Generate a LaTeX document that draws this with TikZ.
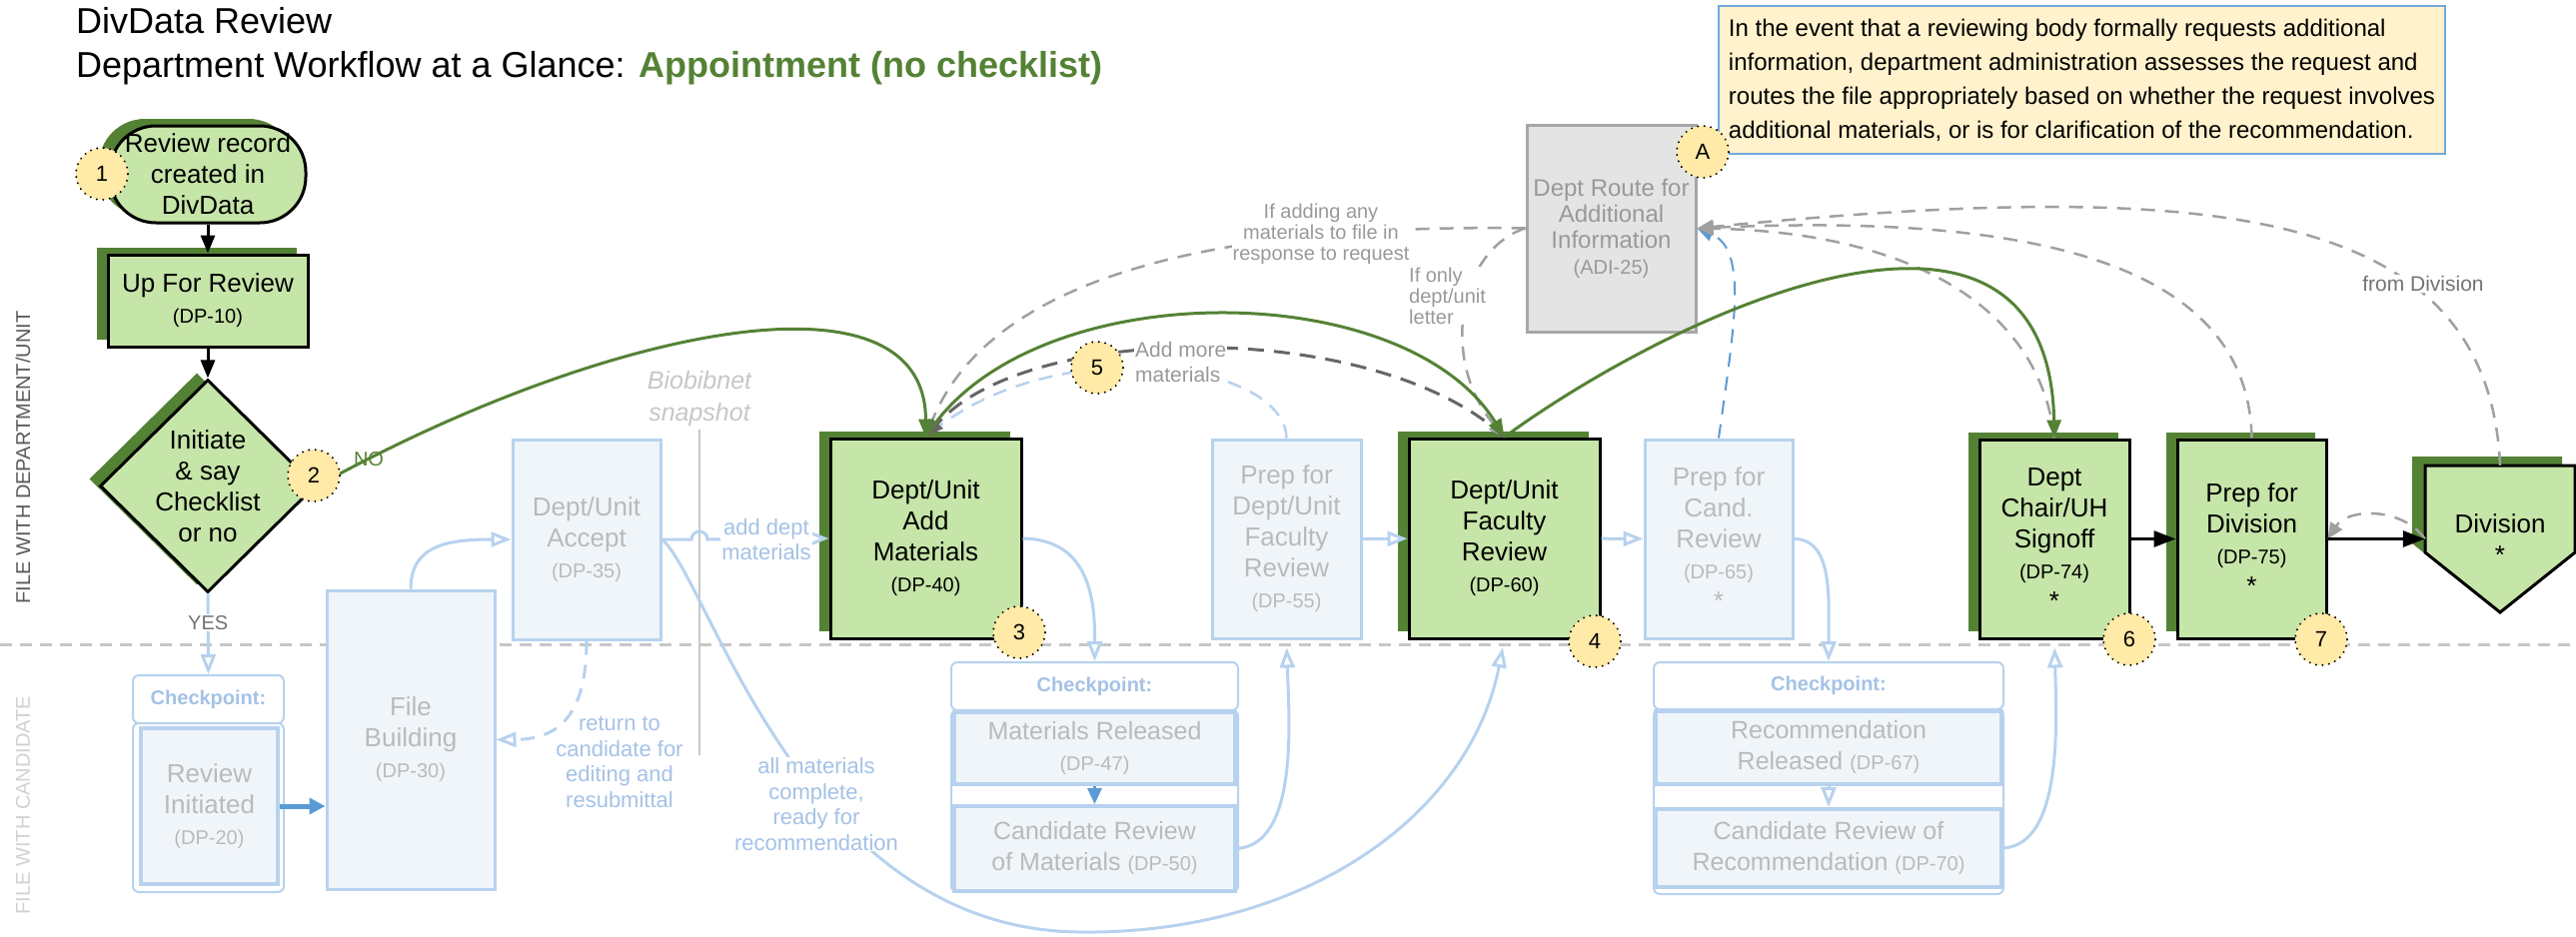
\documentclass[tikz,border=0pt]{standalone}
\usepackage{fontspec}
\setmainfont{Liberation Sans}
\usetikzlibrary{arrows.meta,shapes.geometric,shadows}

\definecolor{dkgreen}{RGB}{84,130,53}
\definecolor{ltgreen}{RGB}{198,229,168}
\definecolor{badgefill}{RGB}{255,234,167}
\definecolor{palefill}{RGB}{240,245,250}
\definecolor{paleline}{RGB}{183,210,238}
\definecolor{fadetext}{RGB}{186,186,186}
\definecolor{fadeblue}{RGB}{164,194,230}
\definecolor{midblue}{RGB}{91,155,213}
\definecolor{adifill}{RGB}{228,228,228}
\definecolor{adiline}{RGB}{166,166,166}
\definecolor{aditext}{RGB}{153,153,153}
\definecolor{notefill}{RGB}{255,242,204}
\definecolor{noteline}{RGB}{111,168,220}
\definecolor{dashgray}{RGB}{160,160,160}
\definecolor{darkdash}{RGB}{102,102,102}

\newcommand{\dpnum}[1]{{\fontsize{20}{31}\selectfont(#1)}}

\begin{document}
\begin{tikzpicture}[x=1pt, y=-1pt, >={Triangle[length=18pt,width=14pt]}]
      \tikzset{
  stepbox/.style={
    rectangle,
    draw=black,
    line width=3pt,
    fill=ltgreen,
    drop shadow={shadow xshift=-11pt, shadow yshift=7pt, fill=dkgreen, opacity=1},
    align=center,
    inner sep=0pt,
    font=\fontsize{26}{31}\selectfont
  },
  fadebox/.style={
    rectangle,
    draw=paleline,
    line width=3pt,
    fill=palefill,
    text=fadetext,
    align=center,
    inner sep=0pt,
    font=\fontsize{26}{31}\selectfont
  },
  cphead/.style={
    rectangle,
    rounded corners=6pt,
    draw=paleline,
    line width=2pt,
    fill=white,
    text=fadeblue,
    inner sep=0pt,
    font=\fontsize{20}{24}\selectfont\bfseries
  },
  cpbody/.style={cphead, font=\normalsize},
  cpitem/.style={fadebox, line width=4pt, font=\fontsize{25}{31}\selectfont},
  adibox/.style={
    rectangle,
    draw=adiline,
    line width=3pt,
    fill=adifill,
    text=aditext,
    align=center,
    inner sep=0pt,
    font=\fontsize{24}{26}\selectfont
  },
  badge/.style={
    circle,
    draw=black,
    line width=2.2pt,
    dash pattern=on 0.01pt off 6.5pt,
    line cap=round,
    fill=badgefill,
    minimum size=52pt,
    inner sep=0pt,
    font=\fontsize{22}{26}\selectfont
  },
  lbl/.style={text=fadeblue, align=center, inner sep=1pt, font=\fontsize{22}{25.5}\selectfont},
  glbl/.style={text=aditext, align=center, inner sep=1pt, font=\fontsize{20}{21}\selectfont},
  blk/.style={draw=black, line width=3pt, ->},
  grn/.style={draw=dkgreen, line width=3pt, ->},
  blt/.style={draw=paleline, line width=3pt, -{Triangle[length=20pt,width=15pt,fill=white]}},
  gdash/.style={draw=dashgray, line width=2.5pt, dash pattern=on 14pt off 10pt,
    -{Triangle[length=16pt,width=14pt]}},
  ddash/.style={draw=darkdash, line width=3pt, dash pattern=on 16pt off 10pt,
    -{Triangle[length=18pt,width=14pt]}},
  bdash/.style={draw=paleline, line width=2.5pt, dash pattern=on 14pt off 10pt}
}

\useasboundingbox (0,0) rectangle (2578,937);

% titles and lanes
\node[anchor=base west, inner sep=0pt, font=\fontsize{36}{44}\selectfont] (title-1) at (76,33) {DivData Review};
\node[anchor=base west, inner sep=0pt, font=\fontsize{36}{44}\selectfont] (title-2) at (76,77)
  {Department Workflow at a Glance: {\bfseries\color{dkgreen}Appointment (no checklist)}};

\draw[draw=black!22, line width=3pt, dash pattern=on 12pt off 8pt] (0,645) -- (2578,645);
\node[rotate=90, font=\fontsize{20}{24}\selectfont, text=black!65] (lane-dept) at (23,458) {FILE WITH DEPARTMENT/UNIT};
\node[rotate=90, font=\fontsize{20}{24}\selectfont, text=black!18] (lane-cand) at (23,806) {FILE WITH CANDIDATE};

\node[font=\fontsize{25}{32}\selectfont\itshape, text=black!22, align=center] (snap) at (700,399) {Biobibnet\\snapshot};
\draw[draw=black!22, line width=2pt] (snap.south) -- ++(0,326);

% steps in the department lane
\node[stepbox, rounded corners=46pt, minimum width=196pt, minimum height=97pt] (start) at (208,174.5) {Review record\\created in\\DivData};
\node[stepbox, minimum width=200pt, minimum height=92pt] (step-10) at (208,301) {Up For Review\\\dpnum{DP-10}};
\node[stepbox, diamond, minimum width=216pt, minimum height=213pt, inner sep=-5pt] (chk) at (208,486.5) {Initiate\\\& say\\Checklist\\or no};
\node[fadebox, minimum width=148pt, minimum height=200pt] (step-35) at (587,540) {Dept/Unit\\Accept\\\dpnum{DP-35}};
\node[stepbox, minimum width=191pt, minimum height=200pt] (step-40) at (926.5,539) {Dept/Unit\\Add\\Materials\\\dpnum{DP-40}};
\node[fadebox, minimum width=149pt, minimum height=199pt] (step-55) at (1287.5,539.5) {Prep for\\Dept/Unit\\Faculty\\Review\\\dpnum{DP-55}};
\node[stepbox, minimum width=191pt, minimum height=200pt] (step-60) at (1505.5,539) {Dept/Unit\\Faculty\\Review\\\dpnum{DP-60}};
\node[fadebox, minimum width=148pt, minimum height=199pt] (step-65) at (1720,539.5) {Prep for\\Cand.\\Review\\\dpnum{DP-65}\\*};
\node[adibox, minimum width=169pt, minimum height=207pt] (step-adi) at (1612.5,228.5) {Dept Route for\\Additional\\Information\\\dpnum{ADI-25}};
\node[stepbox, minimum width=150pt, minimum height=199pt] (step-74) at (2056,539.5) {Dept\\Chair/UH\\Signoff\\\dpnum{DP-74}\\*};
\node[stepbox, minimum width=149pt, minimum height=199pt] (step-75) at (2253.5,539.5) {Prep for\\Division\\\dpnum{DP-75}\\*};

\fill[dkgreen] (2414,457) -- (2564,457) -- (2564,544) -- (2489,604) -- (2414,544) -- cycle;
\draw[black, line width=3pt, fill=ltgreen] (2427,466) -- (2577,466) -- (2577,553) -- (2502,613) -- (2427,553) -- cycle;
\node[minimum width=150pt, minimum height=147pt, align=center, inner sep=0pt, font=\fontsize{26}{31}\selectfont] (div) at (2502,539.5) {Division\\*};

\node[draw=noteline, line width=1.5pt, fill=notefill, align=left, inner xsep=10pt, inner ysep=0pt,
  minimum height=148pt, font=\fontsize{24}{34}\selectfont] (note) at (2083.5,80)
  {In the event that a reviewing body formally requests additional\\
   information, department administration assesses the request and\\
   routes the file appropriately based on whether the request involves\\
   additional materials, or is for clarification of the recommendation.};

% steps in the candidate lane
\node[fadebox, minimum width=168pt, minimum height=299pt] (step-30) at (411,740.5) {File\\Building\\\dpnum{DP-30}};

\node[cphead, minimum width=151pt, minimum height=48pt] (cp-1) at (208.5,700) {Checkpoint:};
\node[cpbody, minimum width=151pt, minimum height=169pt] (cpb-1) at (208.5,808.5) {};
\node[cpitem, minimum width=137pt, minimum height=156pt, font=\fontsize{26}{31}\selectfont] (step-20) at (209.5,807) {Review\\Initiated\\\dpnum{DP-20}};

\node[cphead, minimum width=287pt, minimum height=48pt] (cp-2) at (1095.5,687) {Checkpoint:};
\node[cpbody, minimum width=287pt, minimum height=182pt] (cpb-2) at (1095.5,802) {};
\node[cpitem, minimum width=281pt, minimum height=72pt] (step-47) at (1095.5,749) {Materials Released\\\dpnum{DP-47}};
\node[cpitem, minimum width=281pt, minimum height=85pt] (step-50) at (1095.5,849.5) {Candidate Review\\of Materials \dpnum{DP-50}};

\node[cphead, minimum width=350pt, minimum height=47pt] (cp-3) at (1830,686.5) {Checkpoint:};
\node[cpbody, minimum width=350pt, minimum height=185pt] (cpb-3) at (1830,802.5) {};
\node[cpitem, minimum width=346pt, minimum height=73pt] (step-67) at (1830,748.5) {Recommendation\\Released \dpnum{DP-67}};
\node[cpitem, minimum width=346pt, minimum height=78pt] (step-70) at (1830,849) {Candidate Review of\\Recommendation \dpnum{DP-70}};

% light blue flow
\draw[blt] (chk.south) -- node[pos=.36, fill=white, text=black!55, inner sep=1pt, font=\fontsize{20}{24}\selectfont] (lbl-yes) {YES} (cp-1.north);
\draw[midblue, line width=5pt, -{Triangle[length=16pt,width=16pt]}] (step-20.east) -- (step-20.east -| step-30.west);
\draw[blt] (step-30.north) .. controls (411,545) and (450,540) .. (step-35.west);
\draw[blt, dash pattern=on 14pt off 10pt] (step-35.south) .. controls (587,715) and (560,740) .. (step-30.east);
\node[lbl] (lbl-return) at (620,763) {return to\\candidate for\\editing and\\resubmittal};
\draw[blt] (step-35.east) -- (692,540) arc[start angle=180, end angle=0, radius=8pt] -- (step-40.west);
\node[lbl, fill=white] (lbl-add) at (767,540) {add dept\\materials};
\draw[blt, shorten >=8pt] (step-35.east) .. controls (710,580) and (800,930) .. (1080,933)
  .. controls (1300,936) and (1470,820) .. (step-60.south);
\node[lbl, fill=white] (lbl-all) at (817,805) {all materials\\complete,\\ready for\\recommendation};
\draw[blt] (step-40.east) .. controls (1090,540) and (1096,600) .. (cp-2.north);
\draw[midblue, line width=3pt, -{Triangle[length=16pt,width=14pt]}] (step-47) -- (step-50);
\draw[blt, shorten >=8pt] (step-50.east) .. controls (1300,845) and (1290,720) .. (step-55.south);
\draw[blt] (step-55) -- (step-60);
\draw[blt] (step-60) -- (step-65);
\draw[blt] (step-65.east) .. controls (1835,540) and (1830,600) .. (cp-3.north);
\draw[blt] (step-67) -- (step-70);
\draw[blt, shorten >=8pt] (step-70.east) .. controls (2065,845) and (2058,720) .. (step-74.south);

% routes for additional information
\draw[bdash] (step-55.north) .. controls (1285,360) and (1050,330) .. (step-40.north);
\draw[gdash] (step-adi.west) .. controls (1300,225) and (1000,250) .. (step-40.north);
\draw[gdash] (step-adi.west) .. controls (1460,250) and (1440,360) .. (step-60.north);
\node[glbl, fill=white] (lbl-adding) at (1322,234) {If adding any\\materials to file in\\response to request};
\node[glbl, fill=white, align=left, anchor=west] (lbl-only) at (1409,296) {If only\\dept/unit\\letter};
\draw[ddash] (step-60.north) .. controls (1380,320) and (1030,320) .. (step-40.north);
\node[glbl, fill=white, align=left, anchor=west, font=\fontsize{21}{25}\selectfont] (lbl-more) at (1135,362) {Add more\\materials};
\draw[midblue, line width=2pt, dash pattern=on 14pt off 10pt, -{Triangle[length=16pt,width=14pt]}]
  (step-65.north) .. controls (1735,330) and (1750,250) .. (step-adi.east);
\draw[gdash] (step-74.north) .. controls (2040,300) and (1900,232) .. (step-adi.east);
\draw[gdash] (step-75.north) .. controls (2250,250) and (2000,215) .. (step-adi.east);
\draw[gdash] (div.north) .. controls (2490,200) and (2200,180) .. (step-adi.east);
\node[glbl, fill=white, text=black!55, font=\fontsize{21}{25}\selectfont] (lbl-div) at (2425,284) {from Division};
\draw[gdash] (div.west) .. controls (2405,508) and (2350,508) .. (step-75.east);

% main flow
\draw[blk] (start) -- (step-10);
\draw[blk] (step-10) -- (chk);
\draw[blk, -{Triangle[length=22pt,width=16pt]}] (step-74) -- (step-75);
\draw[blk, -{Triangle[length=22pt,width=16pt]}] (step-75) -- (div);
\draw[grn] (chk.east) .. controls (600,330) and (926,260) .. (step-40.north);
\draw[grn] (step-40.north) .. controls (1027,274) and (1405,274) .. (step-60.north);
\draw[grn] (step-60.north) .. controls (1680,310) and (2050,140) .. (step-74.north);
\node[text=dkgreen, inner sep=0pt, font=\fontsize{20}{24}\selectfont] (lbl-no) at (369,460) {NO};

% numbered badges
\foreach \n/\px/\py in {1/102/174, 2/314/476, 3/1020/633, 4/1596/642, 5/1098/368, 6/2131/640, 7/2323/640, A/1704/152}
  \node[badge] (badge-\n) at (\px,\py) {\n};
    \end{tikzpicture}
\end{document}
